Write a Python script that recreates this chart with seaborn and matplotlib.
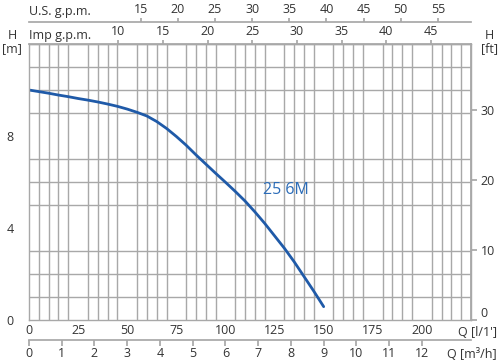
import matplotlib
matplotlib.use("Agg")
import matplotlib.pyplot as plt
import seaborn as sns
import numpy as np
import pandas as pd

# ---- data ----
q_lpm = [0, 5, 10, 15, 20, 25, 30, 35, 40, 45, 50, 55, 60, 65, 70, 75, 80, 85, 90,
         95, 100, 105, 110, 115, 120, 125, 130, 135, 140, 145, 150]
h_m = [10.0, 9.93, 9.86, 9.78, 9.71, 9.63, 9.56, 9.48, 9.39, 9.29, 9.17, 9.03, 8.87,
       8.63, 8.33, 7.98, 7.6, 7.18, 6.78, 6.38, 5.99, 5.59, 5.17, 4.70, 4.2, 3.66,
       3.12, 2.53, 1.89, 1.25, 0.58]
curve_label = "25 6M"

lpm_ticks = [0, 25, 50, 75, 100, 125, 150, 175, 200]
m3h_ticks = [0, 1, 2, 3, 4, 5, 6, 7, 8, 9, 10, 11, 12]
imp_ticks = [10, 15, 20, 25, 30, 35, 40, 45]
us_ticks = [15, 20, 25, 30, 35, 40, 45, 50, 55]
hm_ticks = [0, 4, 8]
hft_ticks = [0, 10, 20, 30]

IMP_GAL = 4.54609
US_GAL = 3.785411784
FT = 0.3048

sns.set_theme(style="white")
plt.rcParams['font.family'] = ['Open Sans', 'DejaVu Sans']
TXT = "#333333"
GRID = "#a8a8a8"
BLUE = "#1f5aa8"
FS = 9

fig = plt.figure(figsize=(5.0, 3.64), dpi=100)
ax = fig.add_axes([29/500, 1 - 320/364, 442/500, 276/364])

df = pd.DataFrame({"Q": q_lpm, "H": h_m})
sns.lineplot(data=df, x="Q", y="H", ax=ax, color=BLUE, linewidth=2.0)

ax.set_xlim(0, 225)
ax.set_ylim(0, 12)
ax.set_xticks(np.arange(0, 226, 5), minor=True)
ax.set_yticks(np.arange(0, 13, 1), minor=True)
ax.grid(which="minor", color=GRID, linewidth=1.0)
ax.set_axisbelow(True)
ax.set_xticks(lpm_ticks)
ax.set_yticks(hm_ticks)
ax.tick_params(axis="x", which="both", length=0, pad=3, labelsize=FS, colors=TXT)
ax.tick_params(axis="y", which="major", length=3, pad=8, labelsize=FS, colors=TXT, color=GRID)
ax.tick_params(axis="y", which="minor", length=0)
ax.set_xlabel("")
ax.set_ylabel("")
for s in ax.spines.values():
    s.set_color(GRID)
    s.set_linewidth(1.0)

ax.text(131, 5.65, curve_label, color="#2b6cb8", fontsize=11.5, ha="center", va="center")

# top Imp gpm axis (on plot top edge)
imp = ax.secondary_xaxis("top", functions=(lambda q: q / IMP_GAL, lambda g: g * IMP_GAL))
imp.set_xticks(imp_ticks)
imp.tick_params(length=3, pad=1, labelsize=FS, colors=TXT, color=GRID)
imp.spines["top"].set_color(GRID)

# US gpm axis above
us = ax.secondary_xaxis(1.08, functions=(lambda q: q / US_GAL, lambda g: g * US_GAL))
us.set_xticks(us_ticks)
us.tick_params(length=3, pad=1, labelsize=FS, colors=TXT, color=GRID)
us.spines["top"].set_color(GRID)

# m3/h axis below
m3 = ax.secondary_xaxis(-0.072, functions=(lambda q: q * 0.06, lambda v: v / 0.06))
m3.set_xticks(m3h_ticks)
m3.tick_params(length=4, pad=1, labelsize=FS, colors=TXT, color=GRID)
m3.spines["bottom"].set_color(GRID)

# right ft axis
ft = ax.secondary_yaxis("right", functions=(lambda m: m / FT, lambda f: f * FT))
ft.set_yticks(hft_ticks)
ft.tick_params(length=4, pad=3, labelsize=FS, colors=TXT, color=GRID)
ft.spines["right"].set_color(GRID)
for lbl in ft.get_yticklabels():
    if lbl.get_text() in ("0", "0.0"):
        lbl.set_verticalalignment("bottom")

# axis titles
fig.text(12/500, 1 - 42/364, "H\n[m]", ha="center", va="center", fontsize=FS, color=TXT, linespacing=1.0)
fig.text(489/500, 1 - 42/364, "H\n[ft]", ha="center", va="center", fontsize=FS, color=TXT, linespacing=1.0)
fig.text(29/500, 1 - 12/364, "U.S. g.p.m.", ha="left", va="center", fontsize=FS, color=TXT)
fig.text(29/500, 1 - 35/364, "Imp g.p.m.", ha="left", va="center", fontsize=FS, color=TXT)
fig.text(497/500, 1 - 333/364, "Q [l/1']", ha="right", va="center", fontsize=FS, color=TXT)
fig.text(497/500, 1 - 354/364, "Q [m³/h]", ha="right", va="center", fontsize=FS, color=TXT)

fig.savefig("out.png", dpi=100)
